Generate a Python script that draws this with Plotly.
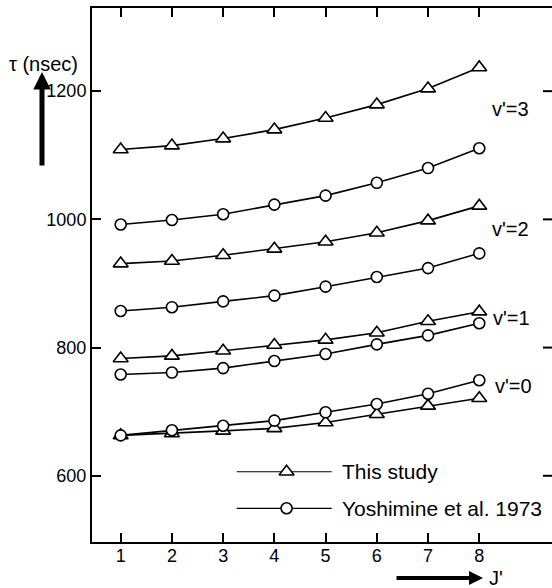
import plotly.graph_objects as go

# J' values
j_values = [1, 2, 3, 4, 5, 6, 7, 8]

# This study (triangles)
this_v0 = [663, 666, 670, 674, 683, 696, 709, 721]
this_v1 = [783, 787, 795, 804, 812, 823, 841, 856]
this_v2 = [931, 935, 944, 954, 965, 979, 998, 1021]
this_v3 = [1109, 1115, 1126, 1140, 1158, 1179, 1204, 1237]

# Yoshimine et al. 1973 (circles)
yosh_v0 = [663, 671, 678, 686, 699, 712, 728, 749]
yosh_v1 = [758, 761, 768, 779, 790, 805, 819, 838]
yosh_v2 = [857, 863, 872, 881, 895, 910, 924, 947]
yosh_v3 = [992, 999, 1008, 1023, 1037, 1057, 1080, 1111]

x_ticks = [1, 2, 3, 4, 5, 6, 7, 8]
y_ticks = [600, 800, 1000, 1200]
level_labels = ["v'=0", "v'=1", "v'=2", "v'=3"]

FONT = "Liberation Sans, Arial, sans-serif"
fig = go.Figure()

tri = dict(symbol="triangle-up", size=13, color="white", line=dict(color="black", width=1.6))
circ = dict(symbol="circle", size=11, color="white", line=dict(color="black", width=1.6))

for ys in [this_v0, this_v1, this_v2, this_v3]:
    fig.add_trace(go.Scatter(x=j_values, y=ys, mode="lines+markers",
                             line=dict(color="black", width=1.6), marker=tri,
                             showlegend=False, cliponaxis=False))
for ys in [yosh_v0, yosh_v1, yosh_v2, yosh_v3]:
    fig.add_trace(go.Scatter(x=j_values, y=ys, mode="lines+markers",
                             line=dict(color="black", width=1.6), marker=circ,
                             showlegend=False, cliponaxis=False))

# legend samples on an overlay (0..1) axis pair
legend_names = ["This study", "Yoshimine et al. 1973"]
legend_y = [0.1316, 0.0631]
for name, ly, mk in zip(legend_names, legend_y, [tri, circ]):
    fig.add_trace(go.Scatter(x=[0.3146, 0.521], y=[ly, ly], mode="lines",
                             line=dict(color="black", width=1.2),
                             xaxis="x3", yaxis="y3", showlegend=False, hoverinfo="skip"))
    fig.add_trace(go.Scatter(x=[0.423], y=[ly], mode="markers", marker=mk,
                             xaxis="x3", yaxis="y3", showlegend=False, hoverinfo="skip"))
    fig.add_annotation(x=0.5385, y=ly, xref="paper", yref="paper", text=name,
                       showarrow=False, xanchor="left", yanchor="middle",
                       font=dict(family=FONT, size=21, color="black"))

# level labels
level_pos = [(0.872, 0.292), (0.868, 0.4195), (0.865, 0.586), (0.865, 0.810)]
for lab, (lx, ly) in zip(level_labels, level_pos):
    fig.add_annotation(x=lx, y=ly, xref="paper", yref="paper", text=lab,
                       showarrow=False, xanchor="left", yanchor="middle",
                       font=dict(family=FONT, size=20, color="black"))

# y title and arrow
fig.add_annotation(x=-0.105, y=0.895, xref="paper", yref="paper", text="τ (nsec)",
                   showarrow=False, xanchor="center", yanchor="middle",
                   font=dict(family=FONT, size=20, color="black"))
fig.add_annotation(x=-0.1087, y=0.880, xref="paper", yref="paper", text="",
                   showarrow=True, ax=0, ay=95, arrowhead=2, arrowsize=0.7,
                   arrowwidth=5, arrowcolor="black")
# x title and arrow
fig.add_annotation(x=0.85, y=-0.0674, xref="paper", yref="paper", text="",
                   showarrow=True, ax=-88, ay=0, arrowhead=2, arrowsize=0.7,
                   arrowwidth=4, arrowcolor="black")
fig.add_annotation(x=0.858, y=-0.0674, xref="paper", yref="paper", text="J'",
                   showarrow=False, xanchor="left", yanchor="middle",
                   font=dict(family=FONT, size=20, color="black"))

# right-side inward ticks (no axis line on the right)
for v in y_ticks:
    fig.add_shape(type="line", xref="paper", xsizemode="pixel", xanchor=1,
                  x0=-9, x1=2, yref="y", y0=v, y1=v,
                  line=dict(color="black", width=2))

axis_common = dict(showgrid=False, zeroline=False, ticks="inside", ticklen=9,
                   tickwidth=2, tickcolor="black", linecolor="black", linewidth=2,
                   tickfont=dict(family=FONT, size=18, color="black"))

fig.update_layout(
    width=552, height=588,
    margin=dict(l=92, r=0, t=8, b=46),
    paper_bgcolor="white", plot_bgcolor="white",
    xaxis=dict(range=[0.44, 9.42], tickvals=x_ticks, ticktext=[str(v) for v in x_ticks],
               showline=True, mirror="ticks", ticklabelstandoff=-4, **axis_common),
    yaxis=dict(range=[496.7, 1329.7], tickvals=y_ticks, ticktext=[str(v) for v in y_ticks],
               showline=True, mirror=False, **axis_common),
    xaxis3=dict(range=[0, 1], domain=[0, 1], visible=False, overlaying="x", anchor="y3"),
    yaxis3=dict(range=[0, 1], domain=[0, 1], visible=False, overlaying="y", anchor="x3"),
    showlegend=False,
)

fig.write_html("out.html", config={"displayModeBar": False},
               post_script="document.body.style.margin='0';")
